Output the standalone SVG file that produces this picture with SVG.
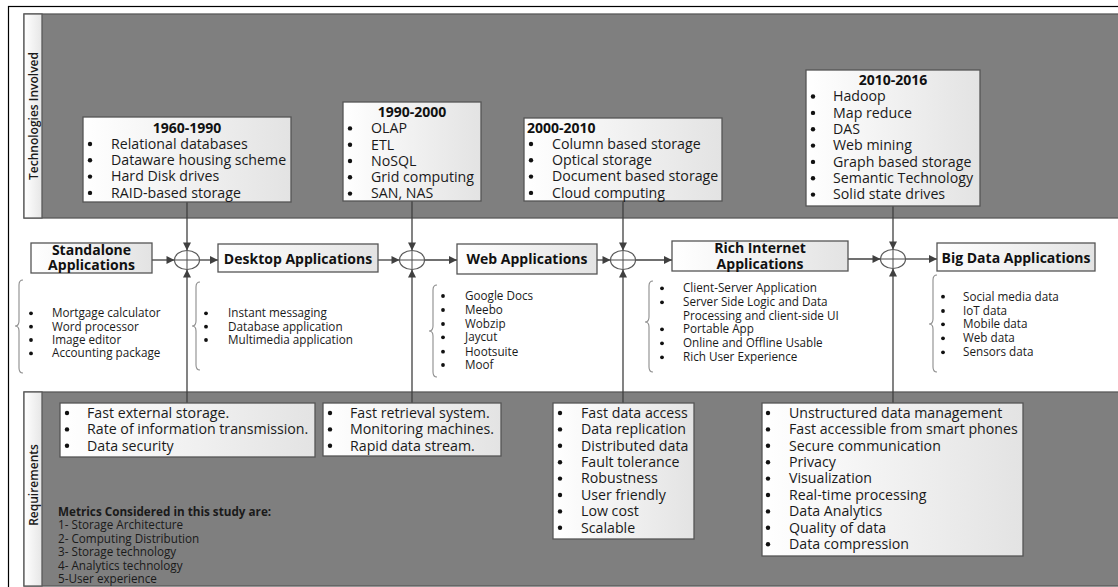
<svg xmlns="http://www.w3.org/2000/svg" width="1118" height="587" viewBox="0 0 1118 587">
  <defs>
    <linearGradient id="boxFill" x1="0" y1="0" x2="1" y2="0">
      <stop offset="0" stop-color="#ffffff"/>
      <stop offset="1" stop-color="#e3e3e3"/>
    </linearGradient>
    <linearGradient id="stripFill" x1="0" y1="0" x2="1" y2="0">
      <stop offset="0" stop-color="#ffffff"/>
      <stop offset="1" stop-color="#e6e6e6"/>
    </linearGradient>
    <marker id="arrow" viewBox="0 0 10 10" refX="10" refY="5" markerWidth="10" markerHeight="8" markerUnits="userSpaceOnUse" orient="auto">
      <path d="M0,0 L10,5 L0,10 Z" fill="#404040"/>
    </marker>
    <style>
      .panel { fill: #7f7f7f; stroke: #5a5a5a; stroke-width: 1.3; }
      .strip { fill: url(#stripFill); stroke: #5a5a5a; stroke-width: 1.3; }
      .strip-label { font-family: "Open Sans", "Liberation Sans", sans-serif; font-size: 12px; font-weight: 600; fill: #1a1a1a; text-anchor: middle; }
      .box { fill: url(#boxFill); stroke: #555555; stroke-width: 1.3; }
      .title { font-family: "Open Sans", "Liberation Sans", sans-serif; font-size: 14px; font-weight: 700; fill: #111111; }
      .item { font-family: "Open Sans", "Liberation Sans", sans-serif; font-size: 14.2px; fill: #1a1a1a; }
      .app { font-family: "Open Sans", "Liberation Sans", sans-serif; font-size: 14px; font-weight: 700; fill: #111111; text-anchor: middle; }
      .small { font-family: "Open Sans", "Liberation Sans", sans-serif; font-size: 11.7px; fill: #1a1a1a; }
      .small-b { font-family: "Open Sans", "Liberation Sans", sans-serif; font-size: 11.7px; font-weight: 700; fill: #1a1a1a; }
      .dot { fill: #111111; }
      .brace { fill: none; stroke: #8c8c8c; stroke-width: 1.1; }
      .link { fill: none; stroke: #404040; stroke-width: 1.3; }
      .junction { fill: #ffffff; stroke: #595959; stroke-width: 1.2; }
      .cross { stroke: #595959; stroke-width: 1.1; }
    </style>
  </defs>

  <rect width="1118" height="587" fill="#ffffff"/>
  <!-- outer frame -->
  <rect x="8.5" y="6.5" width="1120" height="592" fill="none" stroke="#000000" stroke-width="1.2"/>

  <!-- band: technologies -->
  <g id="band-technologies">
    <rect class="panel" x="24" y="14" width="1100" height="204"/>
    <rect class="strip" x="24" y="14" width="18" height="204"/>
    <text class="strip-label" transform="translate(37.5,116) rotate(-90)">Technologies Involved</text>
  </g>

  <!-- band: requirements -->
  <g id="band-requirements">
    <rect class="panel" x="24" y="392" width="1100" height="194"/>
    <rect class="strip" x="24" y="392" width="18" height="194"/>
    <text class="strip-label" transform="translate(37.5,485) rotate(-90)">Requirements</text>
  </g>

  <!-- connectors -->
  <g id="connectors">
    <!-- technology boxes down to junctions -->
    <line class="link" x1="187" y1="202" x2="187" y2="250.5" marker-end="url(#arrow)"/>
    <line class="link" x1="412" y1="201" x2="412" y2="250.5" marker-end="url(#arrow)"/>
    <line class="link" x1="623" y1="201" x2="623" y2="250.5" marker-end="url(#arrow)"/>
    <line class="link" x1="893" y1="206" x2="893" y2="249.5" marker-end="url(#arrow)"/>
    <!-- requirement boxes up to junctions -->
    <line class="link" x1="187" y1="403" x2="187" y2="269.5" marker-end="url(#arrow)"/>
    <line class="link" x1="412" y1="403" x2="412" y2="269.5" marker-end="url(#arrow)"/>
    <line class="link" x1="623" y1="403" x2="623" y2="269.5" marker-end="url(#arrow)"/>
    <line class="link" x1="893" y1="403" x2="893" y2="268.5" marker-end="url(#arrow)"/>
    <!-- application flow -->
    <line class="link" x1="152" y1="260" x2="174.5" y2="260" marker-end="url(#arrow)"/>
    <line class="link" x1="199.5" y1="260" x2="218" y2="260" marker-end="url(#arrow)"/>
    <line class="link" x1="378" y1="260" x2="399.5" y2="260" marker-end="url(#arrow)"/>
    <line class="link" x1="424.5" y1="260" x2="457" y2="260" marker-end="url(#arrow)"/>
    <line class="link" x1="597" y1="260" x2="610.5" y2="260" marker-end="url(#arrow)"/>
    <line class="link" x1="635.5" y1="260" x2="672" y2="260" marker-end="url(#arrow)"/>
    <line class="link" x1="848" y1="259" x2="880.5" y2="259" marker-end="url(#arrow)"/>
    <line class="link" x1="905.5" y1="259" x2="937" y2="259" marker-end="url(#arrow)"/>
  </g>

  <!-- junctions -->
  <g id="junction-1">
    <ellipse class="junction" cx="187" cy="260" rx="12.5" ry="9.5"/>
    <line class="cross" x1="174.5" y1="260" x2="199.5" y2="260"/>
    <line class="cross" x1="187" y1="250.5" x2="187" y2="269.5"/>
  </g>
  <g id="junction-2">
    <ellipse class="junction" cx="412" cy="260" rx="12.5" ry="9.5"/>
    <line class="cross" x1="399.5" y1="260" x2="424.5" y2="260"/>
    <line class="cross" x1="412" y1="250.5" x2="412" y2="269.5"/>
  </g>
  <g id="junction-3">
    <ellipse class="junction" cx="623" cy="260" rx="12.5" ry="9.5"/>
    <line class="cross" x1="610.5" y1="260" x2="635.5" y2="260"/>
    <line class="cross" x1="623" y1="250.5" x2="623" y2="269.5"/>
  </g>
  <g id="junction-4">
    <ellipse class="junction" cx="893" cy="259" rx="12.5" ry="9.5"/>
    <line class="cross" x1="880.5" y1="259" x2="905.5" y2="259"/>
    <line class="cross" x1="893" y1="249.5" x2="893" y2="268.5"/>
  </g>

  <!-- technology boxes -->
  <g id="tech-1960-1990">
    <rect class="box" x="83" y="117" width="208" height="85"/>
    <text class="title" x="187" y="132.5" text-anchor="middle">1960-1990</text>
    <circle class="dot" cx="90" cy="144" r="2.2"/>
    <circle class="dot" cx="90" cy="160.3" r="2.2"/>
    <circle class="dot" cx="90" cy="176.6" r="2.2"/>
    <circle class="dot" cx="90" cy="192.9" r="2.2"/>
    <text class="item" x="111" y="148.8">Relational databases</text>
    <text class="item" x="111" y="165.1">Dataware housing scheme</text>
    <text class="item" x="111" y="181.4">Hard Disk drives</text>
    <text class="item" x="111" y="197.7">RAID-based storage</text>
  </g>
  <g id="tech-1990-2000">
    <rect class="box" x="343" y="102" width="138" height="99"/>
    <text class="title" x="412" y="117" text-anchor="middle">1990-2000</text>
    <circle class="dot" cx="350" cy="128.4" r="2.2"/>
    <circle class="dot" cx="350" cy="144.7" r="2.2"/>
    <circle class="dot" cx="350" cy="161" r="2.2"/>
    <circle class="dot" cx="350" cy="177.3" r="2.2"/>
    <circle class="dot" cx="350" cy="193.6" r="2.2"/>
    <text class="item" x="371" y="133.2">OLAP</text>
    <text class="item" x="371" y="149.5">ETL</text>
    <text class="item" x="371" y="165.8">NoSQL</text>
    <text class="item" x="371" y="182.1">Grid computing</text>
    <text class="item" x="371" y="198.4">SAN, NAS</text>
  </g>
  <g id="tech-2000-2010">
    <rect class="box" x="524" y="118" width="198" height="83"/>
    <text class="title" x="527" y="132.5">2000-2010</text>
    <circle class="dot" cx="531" cy="144" r="2.2"/>
    <circle class="dot" cx="531" cy="160.3" r="2.2"/>
    <circle class="dot" cx="531" cy="176.6" r="2.2"/>
    <circle class="dot" cx="531" cy="192.9" r="2.2"/>
    <text class="item" x="552" y="148.8">Column based storage</text>
    <text class="item" x="552" y="165.1">Optical storage</text>
    <text class="item" x="552" y="181.4">Document based storage</text>
    <text class="item" x="552" y="197.7">Cloud computing</text>
  </g>
  <g id="tech-2010-2016">
    <rect class="box" x="806" y="70" width="174" height="136"/>
    <text class="title" x="893" y="85" text-anchor="middle">2010-2016</text>
    <circle class="dot" cx="813" cy="96.5" r="2.2"/>
    <circle class="dot" cx="813" cy="112.9" r="2.2"/>
    <circle class="dot" cx="813" cy="129.2" r="2.2"/>
    <circle class="dot" cx="813" cy="145.6" r="2.2"/>
    <circle class="dot" cx="813" cy="161.9" r="2.2"/>
    <circle class="dot" cx="813" cy="178.3" r="2.2"/>
    <circle class="dot" cx="813" cy="194.6" r="2.2"/>
    <text class="item" x="833" y="101.3">Hadoop</text>
    <text class="item" x="833" y="117.7">Map reduce</text>
    <text class="item" x="833" y="134">DAS</text>
    <text class="item" x="833" y="150.4">Web mining</text>
    <text class="item" x="833" y="166.7">Graph based storage</text>
    <text class="item" x="833" y="183.1">Semantic Technology</text>
    <text class="item" x="833" y="199.4">Solid state drives</text>
  </g>

  <!-- application stages -->
  <g id="app-standalone">
    <rect class="box" x="31" y="243" width="121" height="30"/>
    <text class="app" x="91.5" y="255">Standalone</text>
    <text class="app" x="91.5" y="270">Applications</text>
    <path class="brace" d="M23,280 Q19,280 19,285 L19,321 Q19,326 15,326 Q19,326 19,331 L19,368 Q19,373 23,373"/>
    <circle class="dot" cx="31" cy="313.3" r="1.9"/>
    <circle class="dot" cx="31" cy="326.7" r="1.9"/>
    <circle class="dot" cx="31" cy="340" r="1.9"/>
    <circle class="dot" cx="31" cy="353.4" r="1.9"/>
    <text class="small" x="52" y="317.3">Mortgage calculator</text>
    <text class="small" x="52" y="330.7">Word processor</text>
    <text class="small" x="52" y="344">Image editor</text>
    <text class="small" x="52" y="357.4">Accounting package</text>
  </g>
  <g id="app-desktop">
    <rect class="box" x="218" y="244" width="160" height="28"/>
    <text class="app" x="298" y="263.5">Desktop Applications</text>
    <path class="brace" d="M200,282 Q196,282 196,287 L196,321 Q196,326 192,326 Q196,326 196,331 L196,365 Q196,370 200,370"/>
    <circle class="dot" cx="206" cy="313.3" r="1.9"/>
    <circle class="dot" cx="206" cy="326.7" r="1.9"/>
    <circle class="dot" cx="206" cy="340" r="1.9"/>
    <text class="small" x="228" y="317.3">Instant messaging</text>
    <text class="small" x="228" y="330.7">Database application</text>
    <text class="small" x="228" y="344">Multimedia application</text>
  </g>
  <g id="app-web">
    <rect class="box" x="457" y="244" width="140" height="30"/>
    <text class="app" x="527" y="264">Web Applications</text>
    <path class="brace" d="M437,285 Q433,285 433,290 L433,326 Q433,331 429,331 Q433,331 433,336 L433,372 Q433,377 437,377"/>
    <circle class="dot" cx="443" cy="296" r="1.9"/>
    <circle class="dot" cx="443" cy="310" r="1.9"/>
    <circle class="dot" cx="443" cy="324" r="1.9"/>
    <circle class="dot" cx="443" cy="337.3" r="1.9"/>
    <circle class="dot" cx="443" cy="351.7" r="1.9"/>
    <circle class="dot" cx="443" cy="365" r="1.9"/>
    <text class="small" x="465" y="300">Google Docs</text>
    <text class="small" x="465" y="314">Meebo</text>
    <text class="small" x="465" y="328">Wobzip</text>
    <text class="small" x="465" y="341.3">Jaycut</text>
    <text class="small" x="465" y="355.7">Hootsuite</text>
    <text class="small" x="465" y="369">Moof</text>
  </g>
  <g id="app-rich-internet">
    <rect class="box" x="672" y="241" width="176" height="30"/>
    <text class="app" x="760" y="253">Rich Internet</text>
    <text class="app" x="760" y="268.5">Applications</text>
    <path class="brace" d="M653,281 Q649,281 649,286 L649,317 Q649,322 645,322 Q649,322 649,327 L649,367 Q649,372 653,372"/>
    <circle class="dot" cx="662" cy="288.3" r="1.9"/>
    <circle class="dot" cx="662" cy="302.3" r="1.9"/>
    <circle class="dot" cx="662" cy="329.3" r="1.9"/>
    <circle class="dot" cx="662" cy="343.3" r="1.9"/>
    <circle class="dot" cx="662" cy="357.3" r="1.9"/>
    <text class="small" x="683" y="292.3">Client-Server Application</text>
    <text class="small" x="683" y="306.3">Server Side Logic and Data</text>
    <text class="small" x="683" y="319.7">Processing and client-side UI</text>
    <text class="small" x="683" y="333.3">Portable App</text>
    <text class="small" x="683" y="347.3">Online and Offline Usable</text>
    <text class="small" x="683" y="361.3">Rich User Experience</text>
  </g>
  <g id="app-big-data">
    <rect class="box" x="937" y="243" width="158" height="28"/>
    <text class="app" x="1016" y="262.5">Big Data Applications</text>
    <path class="brace" d="M937,275 Q933,275 933,280 L933,319 Q933,324 929,324 Q933,324 933,329 L933,367 Q933,372 937,372"/>
    <circle class="dot" cx="943" cy="296.7" r="1.9"/>
    <circle class="dot" cx="943" cy="311" r="1.9"/>
    <circle class="dot" cx="943" cy="324.3" r="1.9"/>
    <circle class="dot" cx="943" cy="338.3" r="1.9"/>
    <circle class="dot" cx="943" cy="352.3" r="1.9"/>
    <text class="small" x="963" y="300.7">Social media data</text>
    <text class="small" x="963" y="315">IoT data</text>
    <text class="small" x="963" y="328.3">Mobile data</text>
    <text class="small" x="963" y="342.3">Web data</text>
    <text class="small" x="963" y="356.3">Sensors data</text>
  </g>

  <!-- requirement boxes -->
  <g id="req-standalone-desktop">
    <rect class="box" x="60" y="403" width="255" height="54"/>
    <circle class="dot" cx="67" cy="413" r="2.2"/>
    <circle class="dot" cx="67" cy="429.4" r="2.2"/>
    <circle class="dot" cx="67" cy="445.8" r="2.2"/>
    <text class="item" x="87" y="417.7">Fast external storage.</text>
    <text class="item" x="87" y="434.1">Rate of information transmission.</text>
    <text class="item" x="87" y="450.5">Data security</text>
  </g>
  <g id="req-desktop-web">
    <rect class="box" x="323" y="403" width="178" height="53"/>
    <circle class="dot" cx="330" cy="413" r="2.2"/>
    <circle class="dot" cx="330" cy="429.4" r="2.2"/>
    <circle class="dot" cx="330" cy="445.8" r="2.2"/>
    <text class="item" x="350" y="417.7">Fast retrieval system.</text>
    <text class="item" x="350" y="434.1">Monitoring machines.</text>
    <text class="item" x="350" y="450.5">Rapid data stream.</text>
  </g>
  <g id="req-web-rich">
    <rect class="box" x="553" y="403" width="141" height="136"/>
    <circle class="dot" cx="560" cy="413" r="2.2"/>
    <circle class="dot" cx="560" cy="429.4" r="2.2"/>
    <circle class="dot" cx="560" cy="445.8" r="2.2"/>
    <circle class="dot" cx="560" cy="462.2" r="2.2"/>
    <circle class="dot" cx="560" cy="478.6" r="2.2"/>
    <circle class="dot" cx="560" cy="495" r="2.2"/>
    <circle class="dot" cx="560" cy="511.4" r="2.2"/>
    <circle class="dot" cx="560" cy="527.8" r="2.2"/>
    <text class="item" x="581" y="417.7">Fast data access</text>
    <text class="item" x="581" y="434.1">Data replication</text>
    <text class="item" x="581" y="450.5">Distributed data</text>
    <text class="item" x="581" y="466.9">Fault tolerance</text>
    <text class="item" x="581" y="483.3">Robustness</text>
    <text class="item" x="581" y="499.7">User friendly</text>
    <text class="item" x="581" y="516.1">Low cost</text>
    <text class="item" x="581" y="532.5">Scalable</text>
  </g>
  <g id="req-big-data">
    <rect class="box" x="762" y="403" width="261" height="153"/>
    <circle class="dot" cx="768" cy="413" r="2.2"/>
    <circle class="dot" cx="768" cy="429.4" r="2.2"/>
    <circle class="dot" cx="768" cy="445.8" r="2.2"/>
    <circle class="dot" cx="768" cy="462.2" r="2.2"/>
    <circle class="dot" cx="768" cy="478.6" r="2.2"/>
    <circle class="dot" cx="768" cy="495" r="2.2"/>
    <circle class="dot" cx="768" cy="511.4" r="2.2"/>
    <circle class="dot" cx="768" cy="527.8" r="2.2"/>
    <circle class="dot" cx="768" cy="544.2" r="2.2"/>
    <text class="item" x="789" y="417.7">Unstructured data management</text>
    <text class="item" x="789" y="434.1">Fast accessible from smart phones</text>
    <text class="item" x="789" y="450.5">Secure communication</text>
    <text class="item" x="789" y="466.9">Privacy</text>
    <text class="item" x="789" y="483.3">Visualization</text>
    <text class="item" x="789" y="499.7">Real-time processing</text>
    <text class="item" x="789" y="516.1">Data Analytics</text>
    <text class="item" x="789" y="532.5">Quality of data</text>
    <text class="item" x="789" y="548.9">Data compression</text>
  </g>

  <!-- study metrics note -->
  <g id="metrics-note">
    <text class="small-b" x="58" y="515.7">Metrics Considered in this study are:</text>
    <text class="small" x="58" y="529.2">1- Storage Architecture</text>
    <text class="small" x="58" y="542.7">2- Computing Distribution</text>
    <text class="small" x="58" y="556.2">3- Storage technology</text>
    <text class="small" x="58" y="569.7">4- Analytics technology</text>
    <text class="small" x="58" y="583.2">5-User experience</text>
  </g>
</svg>
